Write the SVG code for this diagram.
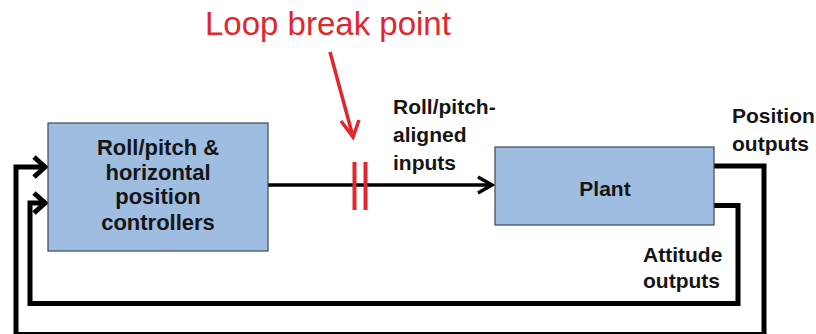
<svg xmlns="http://www.w3.org/2000/svg" width="816" height="334" viewBox="0 0 816 334">
<style>
.box{fill:#9fbde0;stroke:#3b4756;stroke-width:1.2}
.lbl{font-family:"Liberation Sans",Arial,sans-serif;font-weight:bold;font-size:21px;fill:#151515}
.big{font-size:22px}
.mid{text-anchor:middle}
.fb{fill:none;stroke:#000;stroke-width:5;stroke-linejoin:miter}
.main{fill:none;stroke:#000;stroke-width:3.5}
.red{fill:none;stroke:#e0282c;stroke-width:3.5}
</style>
<rect width="816" height="334" fill="#fff"/>
<g id="connectors">
  <path class="fb" d="M714,166 H764 V334.5 H16 V167 H44"/>
  <path class="fb" d="M34,157 L45,167 L34,177"/>
  <path class="fb" d="M714,205.5 H738 V303.5 H30 V203 H44"/>
  <path class="fb" d="M34,193 L45,203 L34,213"/>
  <path class="main" d="M268,185 H491"/>
  <path class="main" d="M478,177 L492,185 L478,193"/>
</g>
<g id="controllers">
  <rect class="box" x="48" y="123" width="220" height="128"/>
  <text class="lbl big mid" x="158" y="155">Roll/pitch &amp;</text>
  <text class="lbl big mid" x="158" y="180">horizontal</text>
  <text class="lbl big mid" x="158" y="204">position</text>
  <text class="lbl big mid" x="158" y="230">controllers</text>
</g>
<g id="plant">
  <rect class="box" x="495" y="147" width="219" height="78"/>
  <text class="lbl mid" x="605" y="196">Plant</text>
</g>
<g id="break-point">
  <text x="205" y="35" style="font-family:'Liberation Sans',Arial,sans-serif;font-size:33px;fill:#e0282c">Loop break point</text>
  <path class="red" d="M330,52 L352,133"/>
  <path class="red" d="M341,121 L353,137 L359,120"/>
  <path class="red" style="stroke-width:4" d="M354.5,162 V210 M365.5,162 V210"/>
</g>
<g id="labels">
  <text class="lbl" x="393" y="114">Roll/pitch-</text>
  <text class="lbl" x="393" y="142">aligned</text>
  <text class="lbl" x="393" y="170">inputs</text>
  <text class="lbl" x="732" y="123">Position</text>
  <text class="lbl" x="732" y="151">outputs</text>
  <text class="lbl" x="643" y="262">Attitude</text>
  <text class="lbl" x="643" y="288">outputs</text>
</g>
</svg>
